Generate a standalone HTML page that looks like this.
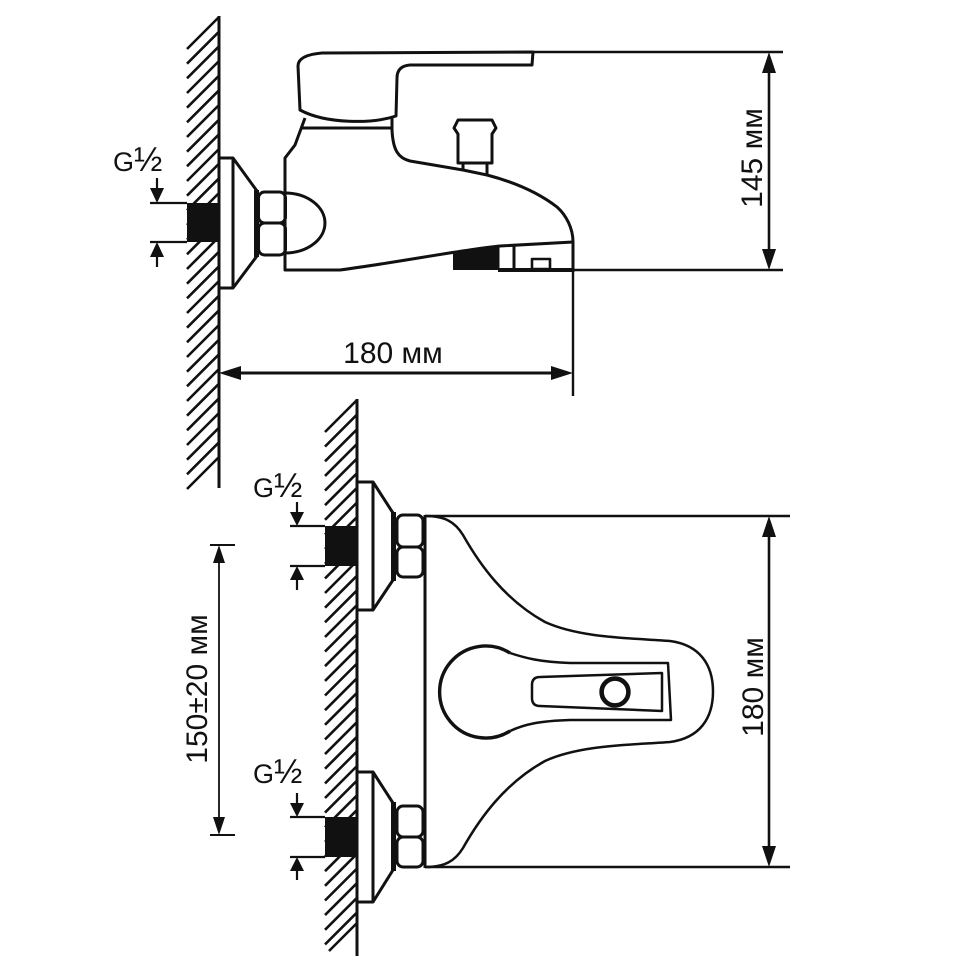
<!DOCTYPE html>
<html><head><meta charset="utf-8"><style>html,body{margin:0;padding:0;background:#fff}svg{display:block}</style></head>
<body>
<svg width="958" height="980" viewBox="0 0 958 980" xmlns="http://www.w3.org/2000/svg">
<rect width="958" height="980" fill="#fff"/>
<g fill="none" stroke="#111" stroke-linecap="butt" stroke-linejoin="round">
<path stroke-width="2.6" d="M219,17 l-32,32 M219,31.7 l-32,32 M219,46.3 l-32,32 M219,61 l-32,32 M219,75.7 l-32,32 M219,90.3 l-32,32 M219,105 l-32,32 M219,119.7 l-32,32 M219,134.3 l-32,32 M219,149 l-32,32 M219,163.7 l-32,32 M219,178.3 l-32,32 M219,193 l-32,32 M219,207.7 l-32,32 M219,222.3 l-32,32 M219,237 l-32,32 M219,251.7 l-32,32 M219,266.3 l-32,32 M219,281 l-32,32 M219,295.7 l-32,32 M219,310.3 l-32,32 M219,325 l-32,32 M219,339.7 l-32,32 M219,354.3 l-32,32 M219,369 l-32,32 M219,383.7 l-32,32 M219,398.3 l-32,32 M219,413 l-32,32 M219,427.7 l-32,32 M219,442.3 l-32,32 M219,457 l-32,32"/>
<line x1="219" y1="16" x2="219" y2="488" stroke-width="3"/>
</g>
<rect x="187" y="203" width="32" height="39" fill="#111"/>
<g fill="none" stroke="#111" stroke-linejoin="round">
<path stroke-width="2.2" d="M150,203 L187,203 M150,242 L187,242 M157,178 L157,190 M157,256 L157,267"/>
</g>
<g fill="#111">
<polygon points="150,188 164,188 157,203"/>
<polygon points="150,257 164,257 157,242"/>
</g>
<g fill="none" stroke="#111" stroke-width="3" stroke-linejoin="round">
<path d="M219,158 L233,158 L257,191 L257,256 L233,288 L219,288"/>
<line x1="233" y1="158" x2="233" y2="288"/>
</g>
<rect x="254" y="190" width="5" height="67" fill="#111"/>
<g fill="none" stroke="#111" stroke-width="3" stroke-linejoin="round">
<rect x="258.5" y="192" width="27" height="31" rx="6"/>
<rect x="258.5" y="223" width="27" height="32" rx="6"/>
<path d="M285,193 A40,30 0 0,1 285,253"/>
<path d="M305,118 L295,145 L285,158 L285,270 L340,270 C400,262 460,250 500,246 L573,242"/>
<line x1="301" y1="128" x2="392" y2="128"/>
<path d="M300,110 L298,66 Q298,55 322,53 L533,52 L532,65 L410,65 Q397,66 397,78 L396,116 C372,124 326,124 300,110 Z" fill="#fff"/>
<path d="M392,117 L392,130 C393,150 398,158 410,161 L463,170 L487,175 C510,181 535,190 557,207 C566,215 573,228 573,242 L573,272"/>
<path d="M458,120 L492,120 L496,128 L492,134 L492,163 L458,163 L458,134 L454,128 Z"/>
<path d="M463,163 L463,171 M487,163 L487,176"/>
<line x1="498" y1="246" x2="498" y2="270"/>
<line x1="514" y1="245" x2="514" y2="270"/>
<rect x="532" y="259" width="18" height="10" stroke-width="2.6"/>
<line x1="498" y1="270" x2="573" y2="270" stroke-width="4"/>
</g>
<polygon points="453,253 498,246 498,270 453,270" fill="#111"/>
<g fill="none" stroke="#111" stroke-width="2.4">
<line x1="533" y1="52" x2="783" y2="52"/>
<line x1="573" y1="270" x2="783" y2="270"/>
<line x1="573" y1="270" x2="573" y2="396"/>
<line x1="769" y1="68" x2="769" y2="254" stroke-width="2.6"/>
<line x1="235" y1="373" x2="557" y2="373" stroke-width="3"/>
</g>
<g fill="#111">
<polygon points="769,52 762,73 776,73"/>
<polygon points="769,270 762,249 776,249"/>
<polygon points="219,373 241,366 241,380"/>
<polygon points="573,373 551,366 551,380"/>
</g>

<g fill="none" stroke="#111">
<path stroke-width="2.6" d="M357,400 l-32,32 M357,414.6 l-32,32 M357,429.3 l-32,32 M357,443.9 l-32,32 M357,458.6 l-32,32 M357,473.2 l-32,32 M357,487.8 l-32,32 M357,502.5 l-32,32 M357,517.1 l-32,32 M357,531.8 l-32,32 M357,546.4 l-32,32 M357,561 l-32,32 M357,575.7 l-32,32 M357,590.3 l-32,32 M357,605 l-32,32 M357,619.6 l-32,32 M357,634.2 l-32,32 M357,648.9 l-32,32 M357,663.5 l-32,32 M357,678.2 l-32,32 M357,692.8 l-32,32 M357,707.4 l-32,32 M357,722.1 l-32,32 M357,736.7 l-32,32 M357,751.4 l-32,32 M357,766 l-32,32 M357,780.6 l-32,32 M357,795.3 l-32,32 M357,809.9 l-32,32 M357,824.6 l-32,32 M357,839.2 l-32,32 M357,853.8 l-32,32 M357,868.5 l-32,32 M357,883.1 l-32,32 M357,897.8 l-32,32 M357,912.4 l-32,32 M357,923 l-28,28"/>
<line x1="357" y1="399" x2="357" y2="956" stroke-width="3"/>
</g>
<rect x="325" y="526" width="32" height="40" fill="#111"/>
<rect x="325" y="817" width="32" height="40" fill="#111"/>
<g fill="none" stroke="#111" stroke-width="2.2">
<path d="M290,526 L325,526 M290,566 L325,566 M297,502 L297,513 M297,579 L297,590"/>
<path d="M290,817 L325,817 M290,857 L325,857 M297,793 L297,804 M297,870 L297,880"/>
</g>
<g fill="#111">
<polygon points="290,512 304,512 297,526"/>
<polygon points="290,580 304,580 297,566"/>
<polygon points="290,803 304,803 297,817"/>
<polygon points="290,871 304,871 297,857"/>
</g>
<g fill="none" stroke="#111" stroke-width="3" stroke-linejoin="round">
<path d="M357,482 L373,482 L393,513 L393,580 L373,610 L357,610"/>
<line x1="373" y1="482" x2="373" y2="610"/>
<path d="M357,772 L373,772 L393,803 L393,870 L373,902 L357,902"/>
<line x1="373" y1="772" x2="373" y2="902"/>
</g>
<rect x="391" y="512" width="5" height="69" fill="#111"/>
<rect x="391" y="802" width="5" height="69" fill="#111"/>
<g fill="none" stroke="#111" stroke-width="3" stroke-linejoin="round">
<rect x="397" y="515" width="26" height="32" rx="6"/>
<rect x="397" y="547" width="26" height="30" rx="6"/>
<rect x="397" y="806" width="26" height="31" rx="6"/>
<rect x="397" y="837" width="26" height="30" rx="6"/>
<line x1="425" y1="515" x2="425" y2="868"/>
</g>
<g fill="none" stroke="#111" stroke-width="2.5" stroke-linejoin="round">
<line x1="425" y1="516" x2="790" y2="516"/>
<line x1="425" y1="867" x2="790" y2="867"/>
<path d="M425,516 C445,516 455,522 463,535 C480,565 505,600 545,622 C580,638 630,638 670,641 C700,645 713,665 713,691.5 C713,718 700,738 670,742 C630,745 580,745 545,761 C505,783 480,818 463,848 C455,861 445,867 425,867"/>
<path d="M510,653 C525,658 540,662 570,663 L668,663 L671,720 L570,720 C540,721 525,724 510,731"/>
<path d="M510,653 A46,46 0 1,0 510,731" stroke-width="3.4"/>
<path d="M540,677 L662,673 L662,711 L540,706 Q532,706 532,698 L532,685 Q532,677 540,677 Z"/>
<circle cx="615" cy="692" r="13.4" stroke-width="4.6"/>
<line x1="769" y1="534" x2="769" y2="850" stroke-width="2.6"/>
<line x1="219" y1="560" x2="219" y2="820" stroke-width="1.8"/>
<line x1="210" y1="545" x2="235" y2="545" stroke-width="2"/>
<line x1="210" y1="835" x2="235" y2="835" stroke-width="2"/>
</g>
<g fill="#111">
<polygon points="769,516 762,537 776,537"/>
<polygon points="769,867 762,846 776,846"/>
<polygon points="219,545 213,563 225,563"/>
<polygon points="219,835 213,817 225,817"/>
</g>

<g font-family="'Liberation Sans', Arial, sans-serif" fill="#111">
<text x="113" y="171" font-size="27">G<tspan font-size="34">½</tspan></text>
<text x="253" y="497" font-size="27">G<tspan font-size="34">½</tspan></text>
<text x="253" y="783" font-size="27">G<tspan font-size="34">½</tspan></text>
<text x="393" y="363" font-size="30" text-anchor="middle">180 мм</text>
<text transform="translate(762,158) rotate(-90)" font-size="30" text-anchor="middle">145 мм</text>
<text transform="translate(763,687) rotate(-90)" font-size="30" text-anchor="middle">180 мм</text>
<text transform="translate(207,689) rotate(-90)" font-size="30" text-anchor="middle">150±20 мм</text>
</g>
</svg>
</body></html>
